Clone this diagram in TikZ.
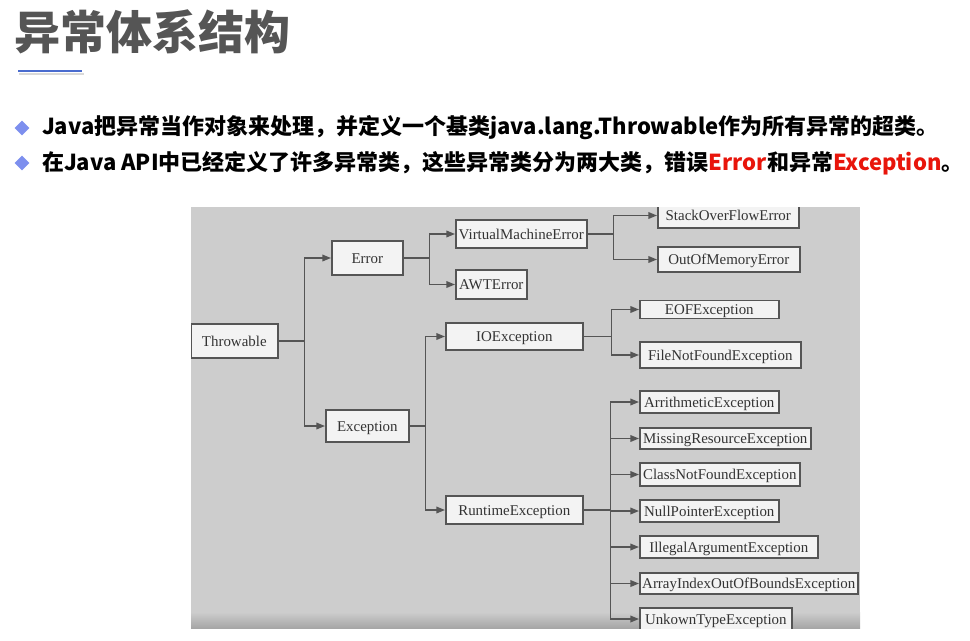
\documentclass[tikz,border=0pt]{standalone}
\usepackage{fontspec}
\setmainfont{Liberation Serif}
\newfontfamily\cjk{Noto Sans CJK SC}
\usetikzlibrary{arrows.meta, positioning, shapes.geometric, calc}
\newdimen\px \px=0.75pt
\definecolor{panelgray}{HTML}{CDCDCD}
\definecolor{boxfill}{HTML}{F3F3F3}
\definecolor{boxline}{HTML}{555555}
\definecolor{titlegray}{HTML}{555555}
\definecolor{accentblue}{HTML}{4A6CCF}
\definecolor{bulletblue}{HTML}{7D8FEE}
\definecolor{hotred}{HTML}{E8150B}
\tikzset{
    cls/.style={
        draw=boxline,
        line width=1.2pt,
        fill=boxfill,
        anchor=west,
        inner xsep=1.5pt,
        inner ysep=1pt,
        text height=7.5pt,
        text depth=0pt,
        font=\fontsize{11.2}{13}\selectfont,
        text=black!80
    },
    link/.style={-{Triangle[length=6.5pt,width=5pt]}, draw=boxline, line width=1.1pt},
    bullet/.style={diamond, fill=bulletblue, inner sep=0pt, minimum size=15\px},
    lead/.style={anchor=west, inner sep=0pt, font=\cjk\bfseries\fontsize{16.5}{19}\selectfont},
    heading/.style={anchor=west, inner sep=0pt, text=titlegray, font=\cjk\bfseries\fontsize{34.5}{40}\selectfont}
}

\begin{document}
\begin{tikzpicture}[x=0.75pt, y=-0.75pt]
\useasboundingbox (0,0) rectangle (970,640);

% header
\node[heading] (title) at (14,32) {异常体系结构};
\draw[black!25, line width=2.5\px, opacity=0.6] (19,74) -- (84,74);
\draw[accentblue, line width=2.2\px] (18,71) -- (82,71);

\node[bullet] (b1) at (22,128) {};
\node[lead, right=12\px of b1] (l1) {Java把异常当作对象来处理，并定义一个基类java.lang.Throwable作为所有异常的超类。};
\node[bullet] (b2) at (22,163) {};
\node[lead, right=12\px of b2] (l2) {在Java API中已经定义了许多异常类，这些异常类分为两大类，错误{\color{hotred}Error}和异常{\color{hotred}Exception}。};

% panel
\fill[panelgray] (191,207) rectangle (860,628);
\shade[top color=panelgray, bottom color=black!35] (191,612) rectangle (860,628);

\begin{scope}
\clip (191,207) rectangle (860,628);

\node[cls, minimum width=87\px, minimum height=34\px] (thr) at (190,341) {Throwable};

\node[cls, minimum width=71\px, minimum height=34\px] (err) at (331,258) {Error};
\node[cls, minimum width=83\px, minimum height=32\px] (exc) at (325,426) {Exception};

\node[cls, minimum width=131\px, minimum height=28\px] (vme) at (455,234) {VirtualMachineError};
\node[cls, minimum width=71\px, minimum height=29\px] (awt) at (455,284.5) {AWTError};
\node[cls, minimum width=137\px, minimum height=27\px] (ioe) at (445,336.5) {IOException};
\node[cls, minimum width=137\px, minimum height=28\px] (rte) at (445,510) {RuntimeException};

\node[cls, minimum width=141\px, minimum height=25\px] (sof) at (657,215.5) {StackOverFlowError};
\node[cls, minimum width=142\px, minimum height=25\px] (oom) at (657,259.5) {OutOfMemoryError};
\node[cls, minimum width=139\px, minimum height=18\px] (eof) at (639,309.5) {EOFException};
\node[cls, minimum width=161\px, minimum height=26\px] (fnf) at (639,355) {FileNotFoundException};

\node[cls, minimum width=139\px, minimum height=22\px] (ari) at (639,402) {ArrithmeticException};
\node[cls, minimum width=171\px, minimum height=21\px] (mis) at (639,438.5) {MissingResourceException};
\node[cls, minimum width=160\px, minimum height=23\px] (cnf) at (639,474.5) {ClassNotFoundException};
\node[cls, minimum width=139\px, minimum height=22\px] (npe) at (639,511) {NullPointerException};
\node[cls, minimum width=178\px, minimum height=22\px] (iae) at (639,547) {IllegalArgumentException};
\node[cls, minimum width=218\px, minimum height=21\px] (aio) at (639,583.5) {ArrayIndexOutOfBoundsException};
\node[cls, minimum width=152\px, minimum height=22\px] (ute) at (639,619) {UnkownTypeException};

\draw[link] (thr.east) -- ++(26,0) |- (err.west);
\draw[link] (thr.east) -- ++(26,0) |- (exc.west);
\draw[link] (err.east) -- ++(26,0) |- (vme.west);
\draw[link] (err.east) -- ++(26,0) |- (awt.west);
\draw[link] (exc.east) -- ++(16,0) |- (ioe.west);
\draw[link] (exc.east) -- ++(16,0) |- (rte.west);
\draw[link] (vme.east) -- ++(26,0) |- (sof.west);
\draw[link] (vme.east) -- ++(26,0) |- (oom.west);
\draw[link] (ioe.east) -- ++(28,0) |- (eof.west);
\draw[link] (ioe.east) -- ++(28,0) |- (fnf.west);
\foreach \c in {ari,mis,cnf,npe,iae,aio,ute}
    \draw[link] (rte.east) -- ++(27,0) |- (\c.west);
\end{scope}
\end{tikzpicture}
\end{document}
